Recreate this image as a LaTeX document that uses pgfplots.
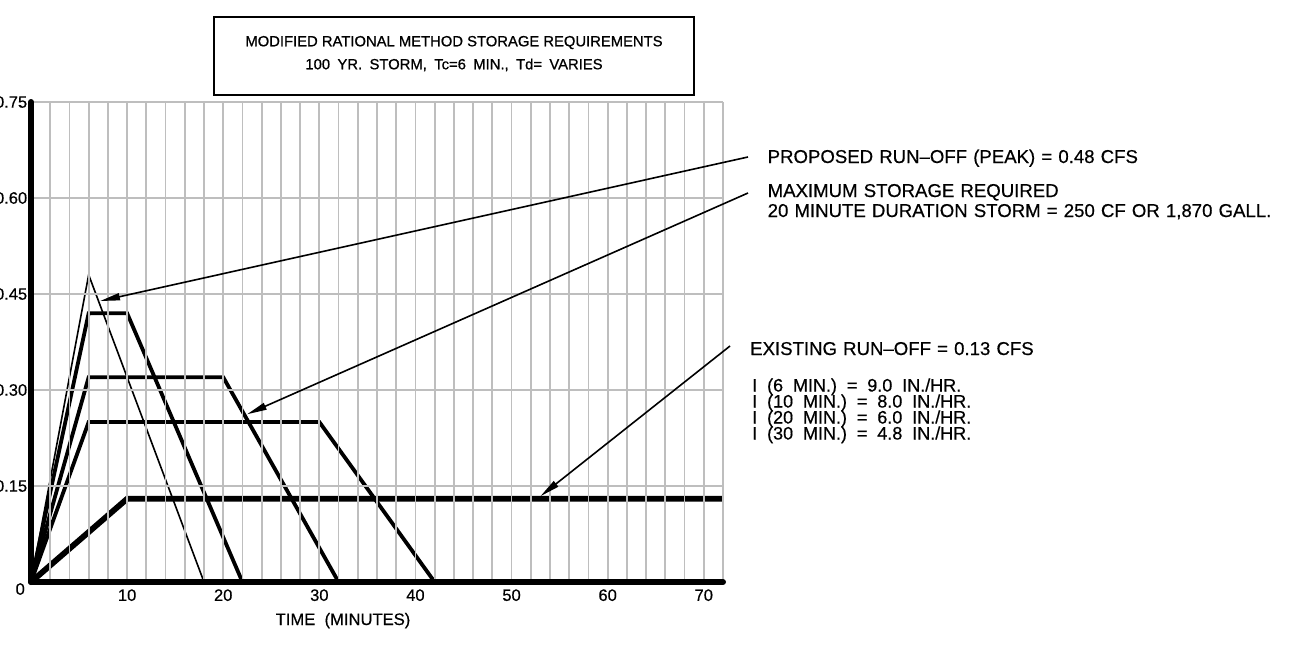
\documentclass[border=0pt]{standalone}
\usepackage{fontspec}
\setmainfont{Liberation Sans}
\newfontfamily\boldishfam{Liberation Sans}[FakeBold=0.5]
\newfontfamily\titlefam{Liberation Sans}[FakeBold=0.8]
\usepackage{pgfplots}
\pgfplotsset{compat=1.18}
\usetikzlibrary{arrows.meta}
\definecolor{gridgray}{RGB}{190,190,190}
\newcommand{\tickfont}{\boldishfam\fontsize{16.5}{18}\selectfont}
\newcommand{\axlabfont}{\boldishfam\fontsize{16.6}{19}\selectfont}
\newcommand{\annfont}{\boldishfam\fontsize{18.6}{20}\selectfont\spaceskip=0.33em\relax}
\newcommand{\annfontb}{\boldishfam\fontsize{18}{16}\selectfont\spaceskip=0.55em\relax}
\newcommand{\titlefont}{\titlefam\fontsize{14.8}{18}\selectfont}
\newcommand{\titlefontb}{\titlefam\fontsize{14.8}{18}\selectfont\spaceskip=0.5em\relax}
\begin{document}
\begin{tikzpicture}
\begin{axis}[
  at={(31pt,-582pt)}, anchor=south west,
  scale only axis, width=692pt, height=480pt,
  xmin=0, xmax=72, ymin=0, ymax=0.75,
  axis x line=bottom, axis y line=left,
  axis line style={-, line width=6pt, line cap=round},
  every outer x axis line/.append style={-},
  every outer y axis line/.append style={-},
  xtick={10,20,30,40,50,60,70},
  xticklabels={10,20,30,40,50,60,70},
  minor xtick={0,2,...,72},
  ytick={0,0.15,0.30,0.45,0.60,0.75},
  yticklabels={,0.15,0.30,0.45,0.60,0.75},
  grid=both,
  major grid style={gridgray, line width=1.8pt},
  minor grid style={gridgray, line width=1.8pt},
  tick style={draw=none},
  ticklabel style={font=\tickfont, inner sep=0pt},
  xticklabel style={anchor=north, yshift=-5pt},
  yticklabel style={anchor=east, xshift=-1.5pt},
  /pgf/number format/assume math mode=true,
  axis on top,
  clip=false,
]
\addplot[black, line width=1.6pt] coordinates {(0,0) (6,0.48) (18,0)};
\addplot[black, line width=3.8pt] coordinates {(0,0) (6,0.42) (10,0.42) (22,0)};
\addplot[black, line width=3.8pt] coordinates {(0,0) (6,0.32) (20,0.32) (32,0)};
\addplot[black, line width=3.8pt] coordinates {(0,0) (6,0.25) (30,0.25) (42,0)};
\addplot[black, line width=5.8pt] coordinates {(0,0) (10,0.13) (72,0.13)};
\node[anchor=north east, inner sep=0pt, font=\tickfont, xshift=-6pt, yshift=-1pt] at (axis cs:0,0) {0};
\coordinate (t1) at (axis cs:7.18,0.439);
\coordinate (t2) at (axis cs:22.47,0.262);
\coordinate (t3) at (axis cs:53.0,0.134);
\end{axis}
% leaders
\draw[line width=1.6pt, -{Triangle[length=20pt,width=7pt]}] (748pt,-157pt) -- (t1);
\draw[line width=1.6pt, -{Triangle[length=20pt,width=7pt]}] (748pt,-193pt) -- (t2);
\draw[line width=1.6pt, -{Triangle[length=20pt,width=7pt]}] (730pt,-346pt) -- (t3);
% title box
\draw[line width=1.8pt] (214pt,-16.7pt) rectangle (694pt,-95pt);
\node[anchor=base, inner sep=0pt, font=\titlefont] at (454pt,-46.3pt) {MODIFIED RATIONAL METHOD STORAGE REQUIREMENTS};
\node[anchor=base, inner sep=0pt, font=\titlefontb] at (454pt,-69.3pt) {100 YR. STORM, Tc=6 MIN., Td= VARIES};
% axis title
\node[anchor=base, inner sep=0pt, font=\axlabfont] at (343pt,-625pt) {TIME~ (MINUTES)};
% annotations
\node[anchor=base west, inner sep=0pt, font=\annfont] at (767.5pt,-163pt) {PROPOSED RUN\textendash OFF (PEAK) = 0.48 CFS};
\node[anchor=base west, inner sep=0pt, font=\annfont] at (767.5pt,-197pt) {MAXIMUM STORAGE REQUIRED};
\node[anchor=base west, inner sep=0pt, font=\annfont] at (767.5pt,-217pt) {20 MINUTE DURATION STORM = 250 CF OR 1,870 GALL.};
\node[anchor=base west, inner sep=0pt, font=\annfont] at (750pt,-355pt) {EXISTING RUN\textendash OFF = 0.13 CFS};
\node[anchor=base west, inner sep=0pt, font=\annfontb] at (752pt,-391.5pt) {I (6 MIN.) = 9.0 IN./HR.};
\node[anchor=base west, inner sep=0pt, font=\annfontb] at (752pt,-407.5pt) {I (10 MIN.) = 8.0 IN./HR.};
\node[anchor=base west, inner sep=0pt, font=\annfontb] at (752pt,-423.5pt) {I (20 MIN.) = 6.0 IN./HR.};
\node[anchor=base west, inner sep=0pt, font=\annfontb] at (752pt,-439.5pt) {I (30 MIN.) = 4.8 IN./HR.};
\pgfresetboundingbox
\path[use as bounding box] (0pt,0pt) rectangle (1314pt,-646pt);
\end{tikzpicture}
\end{document}
